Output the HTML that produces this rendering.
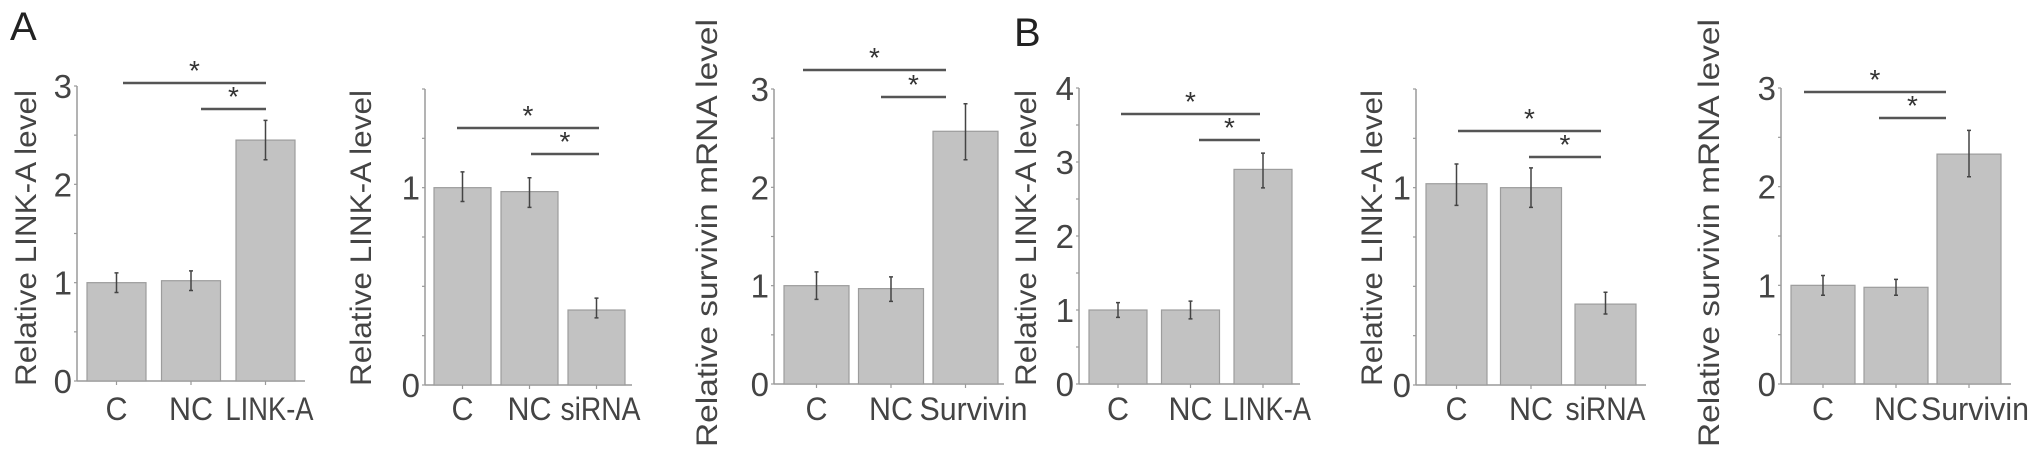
<!DOCTYPE html>
<html><head><meta charset="utf-8"><style>
html,body{margin:0;padding:0;background:#fff;}
svg{display:block;font-family:"Liberation Sans",Arial,sans-serif;}
</style></head><body>
<svg id="fig" width="2032" height="452" viewBox="0 0 2032 452">
<text x="10" y="40" font-size="40" fill="#222">A</text>
<text x="1014" y="46" font-size="40" fill="#222">B</text>
</svg>
<script>
// Panel A1
const a1Cats = ["C","NC","LINK-A"];
const a1Vals = [1.0, 1.02, 2.45];
const a1ErrHi = [1.1, 1.12, 2.65];
const a1ErrLo = [0.9, 0.92, 2.25];
const a1Ticks = ["0","1","2","3"];
// Panel A2
const a2Cats = ["C","NC","siRNA"];
const a2Vals = [1.0, 0.98, 0.38];
const a2ErrHi = [1.08, 1.05, 0.44];
const a2ErrLo = [0.93, 0.90, 0.34];
const a2Ticks = ["0","","","","1","",""];
// Panel A3
const a3Cats = ["C","NC","Survivin"];
const a3Vals = [1.0, 0.97, 2.57];
const a3ErrHi = [1.14, 1.09, 2.85];
const a3ErrLo = [0.86, 0.84, 2.28];
const a3Ticks = ["0","1","2","3"];
// Panel B1
const b1Cats = ["C","NC","LINK-A"];
const b1Vals = [1.0, 1.0, 2.9];
const b1ErrHi = [1.1, 1.12, 3.12];
const b1ErrLo = [0.9, 0.88, 2.65];
const b1Ticks = ["0","1","2","3","4"];
// Panel B2
const b2Cats = ["C","NC","siRNA"];
const b2Vals = [1.02, 1.0, 0.41];
const b2ErrHi = [1.12, 1.10, 0.47];
const b2ErrLo = [0.91, 0.90, 0.36];
const b2Ticks = ["0","","","","1","",""];
// Panel B3
const b3Cats = ["C","NC","Survivin"];
const b3Vals = [1.0, 0.98, 2.33];
const b3ErrHi = [1.1, 1.06, 2.57];
const b3ErrLo = [0.9, 0.9, 2.1];
const b3Ticks = ["0","1","2","3"];

const svg = document.getElementById('fig');
const NS = 'http://www.w3.org/2000/svg';
const labelLen = {"C":22,"NC":44,"LINK-A":88,"siRNA":80,"Survivin":108};
function mk(tag, attrs, parent){
  const e = document.createElementNS(NS, tag);
  for (const k in attrs) e.setAttribute(k, attrs[k]);
  (parent||svg).appendChild(e);
  return e;
}
function panel(p){
  const g = mk('g', {});
  
  
  const tickStep = p.max/(p.ticks.length-1);
  const y = v => p.y0 - (v/p.max)*(p.y0-p.yTop);
  const x = i => p.bar0 + i*p.barGap + p.barW/2;
  const ya = mk('line',{x1:p.x0,y1:p.y0,x2:p.x0,y2:p.yTop,stroke:'#9a9a9a','stroke-width':1.5},g);
  
  
  const xa = mk('line',{x1:p.x0,y1:p.y0,x2:p.xEnd,y2:p.y0,stroke:'#9a9a9a','stroke-width':1.5},g);
  
  
  const nMinor = (p.ticks.length-1)*(p.minor?2:1);
  for(let k=0;k<=nMinor;k++){
    const v = k*p.max/nMinor;
    mk('line',{x1:p.x0-3,y1:y(v),x2:p.x0,y2:y(v),stroke:'#9a9a9a','stroke-width':1.2},g);
  }
  p.ticks.forEach((t,i)=>{
    if(!t) return;
    const tl = mk('text',{x:p.x0-5,y:y(i*tickStep)+12,'font-size':33,'text-anchor':'end',fill:'#444'},g);
    tl.textContent = t;
    
    
  });
  const yt = mk('text',{x:0,y:0,'font-size':30,'text-anchor':'middle',fill:'#444',
    transform:`translate(${p.titleX},${p.titleY}) rotate(-90)`,textLength:p.titleLen,lengthAdjust:'spacingAndGlyphs'},g);
  yt.textContent = p.title;
  
  
  p.cats.forEach((c,i)=>{
    const cx = x(i);
    mk('line',{x1:cx,y1:p.y0,x2:cx,y2:p.y0+4,stroke:'#9a9a9a','stroke-width':1.2},g);
    const b = mk('rect',{x:cx-p.barW/2,y:y(p.vals[i]),width:p.barW,height:p.y0-y(p.vals[i]),fill:'#c2c2c2',stroke:'#9c9c9c','stroke-width':1.2},g);
    
    
    const eb = mk('path',{d:`M${cx},${y(p.hi[i])}V${y(p.lo[i])}M${cx-2},${y(p.hi[i])}H${cx+2}M${cx-2},${y(p.lo[i])}H${cx+2}`,stroke:'#444','stroke-width':1.5,fill:'none'},g);
    
    
    const xl = mk('text',{x:cx+(p.labShift?p.labShift[i]:0),y:420,'font-size':32,'text-anchor':'middle',fill:'#444',textLength:labelLen[c],lengthAdjust:'spacingAndGlyphs'},g);
    xl.textContent = c;
    
    
  });
  p.sig.forEach(s=>{
    const l = mk('line',{x1:s[0],y1:s[2],x2:s[1],y2:s[2],stroke:'#555','stroke-width':2.6},g);
    
    
    const st = mk('text',{x:(s[0]+s[1])/2,y:s[2]-3,'font-size':28,'text-anchor':'middle',fill:'#333'},g);
    st.textContent = '*';
    
    
  });
}
panel({name:'panel-a-linka-overexpression',x0:77,xEnd:305,y0:381,yTop:86,max:3,minor:true,ticks:a1Ticks,cats:a1Cats,vals:a1Vals,hi:a1ErrHi,lo:a1ErrLo,
  bar0:87,barGap:74.5,barW:59,title:'Relative LINK-A level',titleX:36,titleY:238,titleLen:296,labShift:[0,0,4],
  sig:[[123,266,83],[201,266,109]]});
panel({name:'panel-a-linka-sirna',x0:425,xEnd:632,y0:385,yTop:89,max:1.5,minor:false,ticks:a2Ticks,cats:a2Cats,vals:a2Vals,hi:a2ErrHi,lo:a2ErrLo,
  bar0:434,barGap:67,barW:57,title:'Relative LINK-A level',titleX:371,titleY:238,titleLen:296,labShift:[0,0,4],
  sig:[[457,599,128],[531,599,154]]});
panel({name:'panel-a-survivin',x0:774,xEnd:1004,y0:384,yTop:89,max:3,minor:true,ticks:a3Ticks,cats:a3Cats,vals:a3Vals,hi:a3ErrHi,lo:a3ErrLo,
  bar0:784,barGap:74.5,barW:65,title:'Relative survivin mRNA level',titleX:717,titleY:233,titleLen:428,labShift:[0,0,8],
  sig:[[803,946,70],[881,946,97]]});
panel({name:'panel-b-linka-overexpression',x0:1079,xEnd:1300,y0:384,yTop:88,max:4,minor:true,ticks:b1Ticks,cats:b1Cats,vals:b1Vals,hi:b1ErrHi,lo:b1ErrLo,
  bar0:1089,barGap:72.5,barW:58,title:'Relative LINK-A level',titleX:1036,titleY:238,titleLen:296,labShift:[0,0,4],
  sig:[[1121,1260,114],[1199,1260,140]]});
panel({name:'panel-b-linka-sirna',x0:1416,xEnd:1646,y0:385,yTop:89,max:1.5,minor:false,ticks:b2Ticks,cats:b2Cats,vals:b2Vals,hi:b2ErrHi,lo:b2ErrLo,
  bar0:1426,barGap:74.5,barW:61,title:'Relative LINK-A level',titleX:1382,titleY:238,titleLen:296,
  sig:[[1458,1601,131],[1529,1601,157]]});
panel({name:'panel-b-survivin',x0:1781,xEnd:2011,y0:384,yTop:88,max:3,minor:true,ticks:b3Ticks,cats:b3Cats,vals:b3Vals,hi:b3ErrHi,lo:b3ErrLo,
  bar0:1791,barGap:73,barW:64,title:'Relative survivin mRNA level',titleX:1719,titleY:233,titleLen:428,labShift:[0,0,6],
  sig:[[1804,1946,92],[1879,1946,118]]});
</script>
</body></html>
